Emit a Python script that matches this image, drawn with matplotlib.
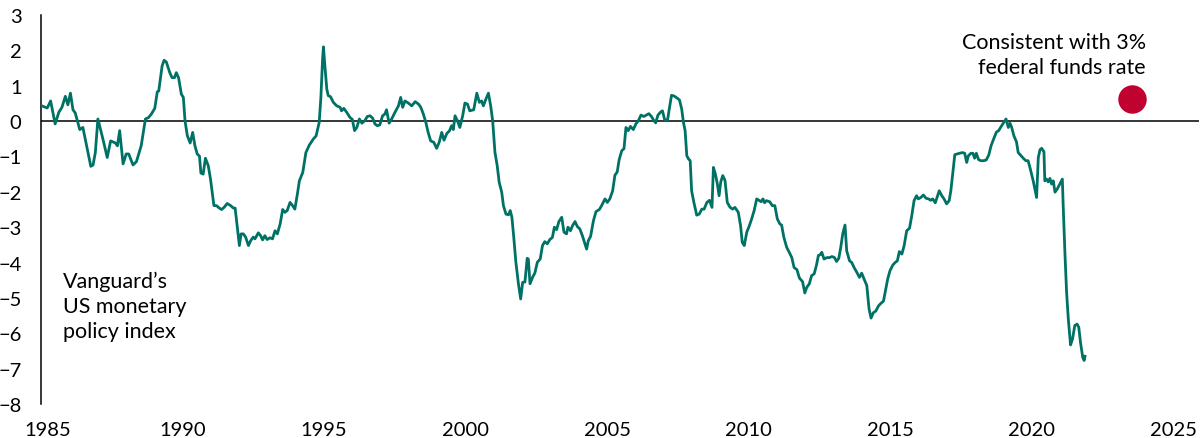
import matplotlib.pyplot as plt
from matplotlib import transforms

plt.rcParams['font.family'] = ['Lato', 'DejaVu Sans']

# Vanguard US monetary policy index (decimal year, index value)
dates = [
    1985.03, 1985.22, 1985.34, 1985.50, 1985.63, 1985.74, 1985.86, 1985.95, 1986.04, 1986.13,
    1986.21, 1986.37, 1986.48, 1986.76, 1986.84, 1986.92, 1987.01, 1987.13, 1987.23, 1987.34,
    1987.46, 1987.63, 1987.70, 1987.78, 1987.90, 1988.01, 1988.10, 1988.25, 1988.37, 1988.54,
    1988.69, 1988.80, 1988.90, 1989.02, 1989.11, 1989.16, 1989.28, 1989.35, 1989.43, 1989.55,
    1989.63, 1989.72, 1989.78, 1989.86, 1989.96, 1990.03, 1990.09, 1990.17, 1990.27, 1990.36,
    1990.44, 1990.52, 1990.60, 1990.65, 1990.73, 1990.81, 1990.91, 1990.99, 1991.11, 1991.20,
    1991.30, 1991.38, 1991.47, 1991.58, 1991.70, 1991.80, 1991.86, 1992.01, 1992.07, 1992.15,
    1992.23, 1992.33, 1992.41, 1992.50, 1992.56, 1992.68, 1992.76, 1992.83, 1992.91, 1992.99,
    1993.09, 1993.18, 1993.27, 1993.35, 1993.45, 1993.54, 1993.62, 1993.70, 1993.80, 1993.89,
    1993.97, 1994.06, 1994.13, 1994.25, 1994.36, 1994.48, 1994.62, 1994.72, 1994.83, 1994.89,
    1994.95, 1994.98, 1995.04, 1995.10, 1995.15, 1995.23, 1995.33, 1995.45, 1995.57, 1995.62,
    1995.70, 1995.80, 1995.92, 1996.00, 1996.08, 1996.16, 1996.25, 1996.34, 1996.45, 1996.53,
    1996.63, 1996.72, 1996.80, 1996.88, 1996.97, 1997.07, 1997.15, 1997.21, 1997.30, 1997.39,
    1997.51, 1997.63, 1997.71, 1997.78, 1997.86, 1997.98, 1998.10, 1998.22, 1998.34, 1998.42,
    1998.51, 1998.60, 1998.68, 1998.77, 1998.88, 1998.98, 1999.07, 1999.16, 1999.24, 1999.34,
    1999.43, 1999.51, 1999.57, 1999.63, 1999.71, 1999.80, 1999.90, 1999.98, 2000.07, 2000.15,
    2000.29, 2000.40, 2000.49, 2000.57, 2000.63, 2000.72, 2000.81, 2000.89, 2000.96, 2001.04,
    2001.12, 2001.19, 2001.28, 2001.34, 2001.43, 2001.52, 2001.58, 2001.64, 2001.71, 2001.78,
    2001.87, 2001.95, 2002.02, 2002.10, 2002.18, 2002.22, 2002.28, 2002.38, 2002.45, 2002.54,
    2002.64, 2002.72, 2002.80, 2002.89, 2002.98, 2003.07, 2003.14, 2003.22, 2003.30, 2003.40,
    2003.48, 2003.57, 2003.62, 2003.71, 2003.78, 2003.87, 2003.95, 2004.04, 2004.13, 2004.22,
    2004.28, 2004.34, 2004.42, 2004.52, 2004.61, 2004.73, 2004.81, 2004.93, 2005.01, 2005.10,
    2005.20, 2005.28, 2005.36, 2005.43, 2005.52, 2005.60, 2005.67, 2005.75, 2005.83, 2005.93,
    2006.02, 2006.11, 2006.20, 2006.30, 2006.39, 2006.48, 2006.57, 2006.66, 2006.72, 2006.80,
    2006.90, 2006.96, 2007.04, 2007.14, 2007.20, 2007.28, 2007.37, 2007.46, 2007.56, 2007.64,
    2007.70, 2007.76, 2007.82, 2007.88, 2007.94, 2007.99, 2008.07, 2008.17, 2008.26, 2008.35,
    2008.43, 2008.53, 2008.62, 2008.71, 2008.76, 2008.83, 2008.90, 2008.96, 2009.02, 2009.09,
    2009.17, 2009.25, 2009.35, 2009.44, 2009.52, 2009.64, 2009.72, 2009.78, 2009.85, 2009.94,
    2010.03, 2010.11, 2010.20, 2010.29, 2010.39, 2010.45, 2010.51, 2010.57, 2010.63, 2010.75,
    2010.84, 2010.93, 2011.02, 2011.11, 2011.17, 2011.25, 2011.35, 2011.44, 2011.53, 2011.61,
    2011.71, 2011.80, 2011.91, 2011.99, 2012.06, 2012.15, 2012.23, 2012.32, 2012.40, 2012.47,
    2012.53, 2012.59, 2012.67, 2012.77, 2012.86, 2012.95, 2013.04, 2013.11, 2013.19, 2013.26,
    2013.33, 2013.41, 2013.47, 2013.57, 2013.65, 2013.73, 2013.83, 2013.92, 2014.00, 2014.08,
    2014.18, 2014.26, 2014.33, 2014.41, 2014.50, 2014.59, 2014.67, 2014.77, 2014.85, 2014.92,
    2015.00, 2015.10, 2015.18, 2015.26, 2015.33, 2015.42, 2015.50, 2015.59, 2015.69, 2015.77,
    2015.85, 2015.94, 2016.00, 2016.09, 2016.18, 2016.27, 2016.36, 2016.44, 2016.51, 2016.60,
    2016.66, 2016.74, 2016.83, 2016.91, 2017.00, 2017.09, 2017.15, 2017.22, 2017.29, 2017.37,
    2017.46, 2017.56, 2017.64, 2017.71, 2017.77, 2017.86, 2017.93, 2017.99, 2018.05, 2018.13,
    2018.21, 2018.31, 2018.40, 2018.49, 2018.57, 2018.66, 2018.76, 2018.84, 2018.93, 2019.01,
    2019.10, 2019.18, 2019.24, 2019.30, 2019.38, 2019.47, 2019.53, 2019.61, 2019.71, 2019.80,
    2019.88, 2019.96, 2020.06, 2020.12, 2020.18, 2020.24, 2020.30, 2020.36, 2020.44, 2020.47,
    2020.53, 2020.59, 2020.65, 2020.71, 2020.77, 2020.83, 2020.91, 2021.00, 2021.09, 2021.12,
    2021.18, 2021.24, 2021.30, 2021.38, 2021.45, 2021.53, 2021.61, 2021.67, 2021.73, 2021.81,
    2021.86, 2021.89,
]
index_values = [
    0.43, 0.37, 0.57, -0.08, 0.25, 0.39, 0.70, 0.46, 0.79, 0.32,
    0.23, -0.24, -0.18, -1.28, -1.24, -0.89, 0.06, -0.32, -0.65, -1.03,
    -0.56, -0.62, -0.70, -0.27, -1.21, -0.93, -0.93, -1.24, -1.15, -0.70,
    0.06, 0.10, 0.20, 0.36, 0.83, 0.85, 1.56, 1.72, 1.67, 1.37,
    1.23, 1.23, 1.37, 1.23, 0.76, 0.67, 0.00, -0.41, -0.62, -0.32,
    -0.70, -0.93, -0.99, -1.47, -1.50, -1.05, -1.26, -1.64, -2.39, -2.39,
    -2.46, -2.50, -2.44, -2.33, -2.39, -2.46, -2.46, -3.52, -3.19, -3.19,
    -3.28, -3.52, -3.38, -3.28, -3.33, -3.16, -3.24, -3.36, -3.24, -3.35,
    -3.30, -3.33, -3.10, -3.19, -2.91, -2.50, -2.58, -2.53, -2.30, -2.39,
    -2.49, -2.06, -1.69, -1.45, -0.89, -0.68, -0.51, -0.42, -0.04, 0.67,
    1.75, 2.10, 1.47, 0.90, 0.72, 0.69, 0.53, 0.43, 0.39, 0.29,
    0.36, 0.25, 0.10, 0.05, -0.27, -0.18, 0.06, -0.06, 0.02, 0.13,
    0.15, 0.08, -0.08, -0.13, -0.11, 0.15, 0.20, 0.32, -0.06, 0.06,
    0.25, 0.43, 0.67, 0.39, 0.57, 0.51, 0.43, 0.55, 0.48, 0.39,
    0.20, -0.04, -0.32, -0.56, -0.60, -0.77, -0.60, -0.32, -0.54, -0.35,
    -0.28, -0.13, -0.24, 0.15, 0.02, -0.18, 0.15, 0.51, 0.48, 0.29,
    0.32, 0.79, 0.53, 0.57, 0.43, 0.62, 0.79, 0.43, 0.01, -0.88,
    -1.26, -1.73, -2.01, -2.39, -2.63, -2.65, -2.53, -2.72, -3.33, -3.99,
    -4.60, -5.03, -4.56, -4.55, -3.88, -3.90, -4.60, -4.40, -4.30, -3.99,
    -3.90, -3.52, -3.41, -3.47, -3.35, -3.29, -3.00, -3.07, -2.84, -2.72,
    -3.14, -3.19, -3.00, -3.10, -2.96, -2.84, -2.98, -3.05, -3.24, -3.47,
    -3.62, -3.38, -3.26, -2.82, -2.56, -2.50, -2.39, -2.20, -2.30, -2.20,
    -1.97, -1.53, -1.44, -1.09, -0.84, -0.78, -0.18, -0.27, -0.15, -0.24,
    -0.08, 0.01, 0.17, 0.13, 0.17, 0.21, 0.13, 0.01, -0.05, 0.17,
    0.26, 0.29, 0.03, 0.03, 0.34, 0.73, 0.71, 0.66, 0.60, 0.34,
    -0.03, -0.27, -0.98, -1.07, -1.12, -1.97, -2.30, -2.66, -2.63, -2.49,
    -2.49, -2.30, -2.24, -2.44, -1.31, -1.50, -1.78, -2.11, -1.72, -1.54,
    -1.68, -2.30, -2.44, -2.49, -2.44, -2.58, -2.96, -3.43, -3.52, -3.14,
    -2.96, -2.77, -2.53, -2.20, -2.25, -2.28, -2.20, -2.31, -2.25, -2.28,
    -2.39, -2.39, -2.77, -2.91, -2.94, -3.29, -3.57, -3.71, -3.86, -4.14,
    -4.20, -4.44, -4.54, -4.86, -4.70, -4.60, -4.37, -4.32, -4.08, -3.80,
    -3.78, -3.71, -3.90, -3.86, -3.86, -3.83, -3.86, -3.97, -3.88, -3.57,
    -3.19, -2.94, -3.67, -3.95, -4.00, -4.14, -4.28, -4.42, -4.30, -4.46,
    -4.65, -5.31, -5.57, -5.42, -5.37, -5.23, -5.16, -5.09, -4.75, -4.46,
    -4.23, -4.07, -4.00, -3.95, -3.69, -3.76, -3.52, -3.10, -3.03, -2.67,
    -2.25, -2.11, -2.20, -2.16, -2.09, -2.18, -2.20, -2.24, -2.20, -2.31,
    -2.16, -1.97, -2.11, -2.20, -2.34, -2.25, -1.97, -1.45, -0.95, -0.93,
    -0.91, -0.89, -0.91, -1.17, -0.98, -0.91, -0.91, -1.05, -0.91, -1.09,
    -1.12, -1.12, -1.10, -0.96, -0.70, -0.51, -0.31, -0.27, -0.15, -0.05,
    0.06, -0.18, -0.06, -0.18, -0.42, -0.59, -0.89, -0.96, -1.05, -1.12,
    -1.12, -1.36, -1.69, -1.92, -2.16, -1.03, -0.81, -0.77, -0.87, -1.69,
    -1.64, -1.72, -1.62, -1.78, -1.69, -2.01, -1.92, -1.78, -1.64, -2.39,
    -3.71, -4.84, -5.59, -6.33, -6.16, -5.78, -5.74, -5.83, -6.25, -6.68,
    -6.77, -6.65,
]

# neutral-policy marker
marker_date = [2023.55]
marker_value = [0.62]

year_ticks = [1985, 1990, 1995, 2000, 2005, 2010, 2015, 2020, 2025]
value_ticks = [3, 2, 1, 0, -1, -2, -3, -4, -5, -6, -7, -8]

line_color = '#007265'
dot_color = '#C00230'

fig = plt.figure(figsize=(12, 4.39), dpi=100)
ax = fig.add_axes([41 / 1200, 1 - 405 / 439, 1158 / 1200, 389 / 439])

ax.plot(dates, index_values, color=line_color, linewidth=2.0, zorder=3)
ax.axhline(0, color='black', linewidth=1.1, zorder=2)
ax.scatter(marker_date, marker_value, s=420, color=dot_color, zorder=4, linewidths=0)

ax.set_xlim(1985, 1985 + 1158 / 28.3)
ax.set_ylim(-8, 3)
ax.set_xticks(year_ticks)
ax.set_xticklabels([str(y) for y in year_ticks])
ax.set_yticks(value_ticks)
ax.set_yticklabels([str(v).replace('-', '\u2212') for v in value_ticks])
ax.tick_params(axis='both', length=0, labelsize=14.5, colors='black')
ax.tick_params(axis='x', pad=12)
ax.tick_params(axis='y', pad=14)

# nudge first year label to the right like the original
first = ax.get_xticklabels()[0]
first.set_transform(first.get_transform() + transforms.ScaledTranslation(7 / 100, 0, fig.dpi_scale_trans))

for side in ['top', 'right', 'bottom']:
    ax.spines[side].set_visible(False)
ax.spines['left'].set_linewidth(1.1)
ax.spines['left'].set_color('black')

ax.text(2024.05, 2.52, 'Consistent with 3%\nfederal funds rate', ha='right', va='top',
        fontsize=15.5, linespacing=1.3)
ax.text(1985.78, -4.22, 'Vanguard\u2019s\nUS monetary\npolicy index', ha='left', va='top',
        fontsize=15.5, linespacing=1.32)

fig.savefig('out.png', dpi=100)
